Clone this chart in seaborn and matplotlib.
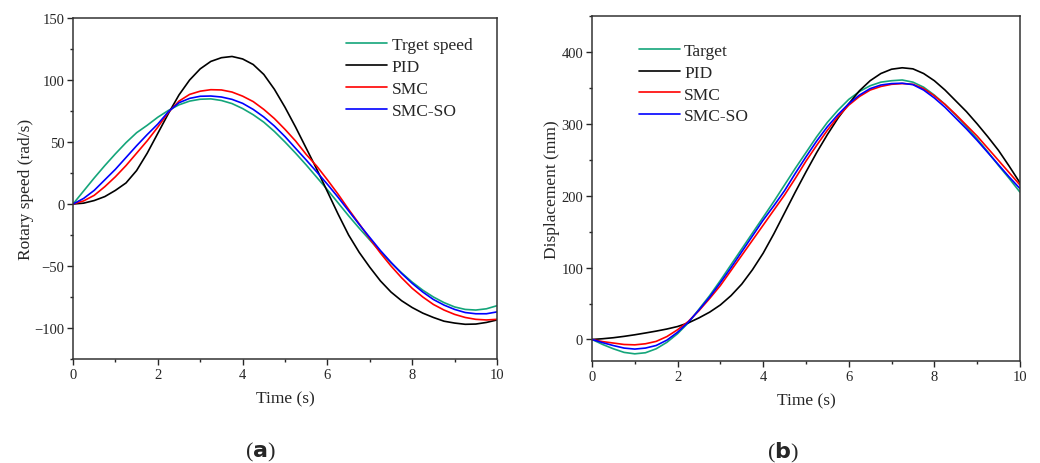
import matplotlib
matplotlib.use("Agg")
import matplotlib.pyplot as plt
from matplotlib.ticker import MultipleLocator
import seaborn as sns
import pandas as pd

# time samples (s), every 0.25 s
time_s = [i * 0.25 for i in range(41)]

# (a) rotary speed (rad/s)
speed_target = [0, 10.5, 21, 31, 40.5, 49.5, 57.5, 63.5, 70, 75.5, 80,
                83, 84.5, 84.8, 83.5, 81, 77, 72, 66, 58.5, 50,
                41, 31.5, 21.5, 11.5, 1, -9.5, -19.5, -29, -38.5, -47.5,
                -55.5, -63, -69.5, -75, -79.5, -83, -85, -85.5, -84.5, -82]
speed_pid = [0, 0.7, 2.8, 6, 11, 17, 27, 41, 57, 73, 88,
             100, 109, 115, 118, 119, 117, 112.5, 104.5, 92.5, 78,
             62, 45, 28, 10, -8, -25, -39, -51, -62, -71,
             -78, -83.5, -88, -91.5, -94.5, -96, -97, -96.8, -95.5, -93.5]
speed_smc = [0, 2.5, 7, 14, 22, 31, 41, 51, 62, 74, 83,
             88.4, 91, 92.2, 92, 90.3, 87, 82.6, 76.3, 68.9, 60.2,
             50.8, 40, 30.5, 19.5, 8, -4.3, -16, -28, -39.5, -50,
             -59.5, -68, -75, -81, -85.5, -89, -91.5, -93, -93.5, -93]
speed_smcso = [0, 4.5, 11, 19.5, 28, 37.5, 47, 56, 64.5, 74.5, 81.7,
               85.2, 86.9, 87.1, 86.3, 84.4, 81.2, 76.3, 70.2, 62.9, 54.4,
               44.9, 35.5, 25.8, 15.9, 5.5, -5.5, -16.5, -27, -37.5, -47,
               -56, -64, -71, -77, -81.5, -85, -87.5, -88.5, -88.5, -87]

# (b) displacement (mm)
disp_target = [0, -7, -13, -18, -20, -18.5, -13, -4, 8, 23, 42,
               61, 82, 104, 126, 148, 170, 192, 215, 238, 260,
               282, 302, 319, 334, 345, 353, 358, 360, 361, 358,
               351, 340, 327, 312, 296, 279, 261, 242, 224, 205]
disp_pid = [0, 1, 2.4, 4.3, 6.5, 9, 11.6, 14.5, 18, 23, 30,
            38, 48, 61, 77, 97, 120, 147, 176, 205, 233,
            260, 285, 308, 328, 346, 360, 370, 376, 378, 376.5,
            370, 360, 347, 332, 317, 300, 282, 263, 241, 218]
disp_smc = [0, -3, -5, -7, -7.5, -6, -2.7, 4, 13.5, 25, 40,
            57, 75, 96, 117, 138, 159, 180, 201, 224, 248,
            270, 291, 310, 326, 338, 347, 352, 355, 356, 355,
            349, 339, 327, 313, 298, 283, 266, 249, 232, 215]
disp_smcso = [0, -4.5, -8.5, -12, -13.4, -12, -8.4, -1, 10, 24, 41,
              59, 79, 100, 122, 144, 166, 186, 207, 231, 254,
              276, 296, 313, 328, 340, 349, 354, 356, 356.5, 354.5,
              347, 336, 323, 308, 293, 277, 260, 243, 226, 210]

series_colors = ["#14a57a", "black", "#ff0000", "#0000ff"]

sns.set_style("ticks")
plt.rcParams["font.family"] = ["Liberation Serif", "DejaVu Serif"]
plt.rcParams["mathtext.fontset"] = "dejavusans"

fig = plt.figure(figsize=(10.4, 4.64), dpi=100)
ax1 = fig.add_axes([0.0702, 0.2241, 0.4077, 0.7349])
ax2 = fig.add_axes([0.5692, 0.2198, 0.4115, 0.7435])


def draw_panel(ax, curves, labels, ylabel, ypad):
    for vals, lab, col in zip(curves, labels, series_colors):
        df = pd.DataFrame({"t": time_s, "v": vals})
        sns.lineplot(data=df, x="t", y="v", ax=ax, color=col, label=lab,
                     linewidth=1.2)
    ax.set_xlim(0, 10)
    ax.xaxis.set_major_locator(MultipleLocator(2))
    ax.xaxis.set_minor_locator(MultipleLocator(1))
    ax.set_xlabel("Time (s)", fontsize=12.5, labelpad=7)
    ax.set_ylabel(ylabel, fontsize=12.5, labelpad=ypad)
    ax.tick_params(which="major", direction="out", length=4.5, width=1,
                   labelsize=10.5, pad=1.8)
    ax.tick_params(which="minor", direction="out", length=2.5, width=1)
    for sp in ax.spines.values():
        sp.set_linewidth(1.1)
        sp.set_color("#333333")


legend_style = dict(loc="upper left", frameon=False, fontsize=12.5,
                    handlelength=2.35, handletextpad=0.25,
                    labelspacing=0.33, borderpad=0, borderaxespad=0)

draw_panel(ax1, [speed_target, speed_pid, speed_smc, speed_smcso],
           ["Trget speed", "PID", "SMC", "SMC-SO"], "Rotary speed (rad/s)", 0)
ax1.set_ylim(-125, 150)
ax1.yaxis.set_major_locator(MultipleLocator(50))
ax1.yaxis.set_minor_locator(MultipleLocator(25))
ax1.legend(bbox_to_anchor=(0.645, 0.945), **legend_style)

draw_panel(ax2, [disp_target, disp_pid, disp_smc, disp_smcso],
           ["Target", "PID", "SMC", "SMC-SO"], "Displacement (mm)", 1)
ax2.set_ylim(-30, 450)
ax2.yaxis.set_major_locator(MultipleLocator(100))
ax2.yaxis.set_minor_locator(MultipleLocator(50))
ax2.legend(bbox_to_anchor=(0.11, 0.923), **legend_style)

fig.text(0.25, 0.024, r"($\mathbf{a}$)", ha="center", va="center", fontsize=16)
fig.text(0.753, 0.024, r"($\mathbf{b}$)", ha="center", va="center", fontsize=16)

fig.savefig("out.png", dpi=100)
